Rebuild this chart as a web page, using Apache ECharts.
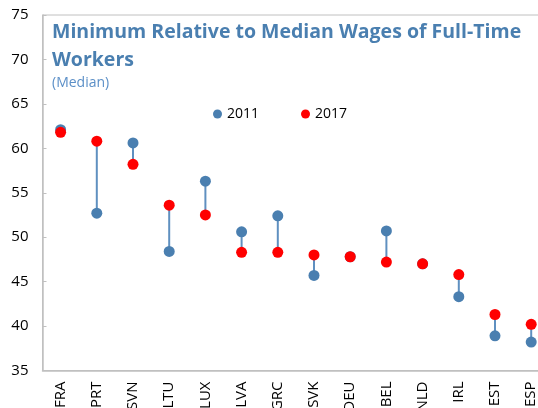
<!DOCTYPE html>
<html>
<head>
<meta charset="utf-8">
<script src="https://cdn.jsdelivr.net/npm/echarts@6/dist/echarts.min.js"></script>
<style>
  html, body { margin: 0; padding: 0; background: #fff; }
  #chart { width: 538px; height: 408px; }
</style>
</head>
<body>
<div id="chart"></div>
<script>
const countries = ['FRA', 'PRT', 'SVN', 'LTU', 'LUX', 'LVA', 'GRC', 'SVK', 'DEU', 'BEL', 'NLD', 'IRL', 'EST', 'ESP']
const wages2011 = [62.1, 52.7, 60.6, 48.4, 56.3, 50.6, 52.4, 45.7, 47.8, 50.7, 47.0, 43.3, 38.9, 38.2]
const wages2017 = [61.8, 60.8, 58.2, 53.6, 52.5, 48.3, 48.3, 48.0, 47.8, 47.2, 47.0, 45.8, 41.3, 40.2]

const blue = '#4a7fb0'
const red = '#ff0000'
const axisGray = '#c0c0c0'
const font = 'Open Sans'

const chart = echarts.init(document.getElementById('chart'))

chart.setOption({
  animation: false,
  textStyle: { fontFamily: font },
  title: {
    text: 'Minimum Relative to Median Wages of Full-Time\nWorkers',
    subtext: '(Median)',
    left: 52,
    top: 19,
    padding: 0,
    itemGap: 1,
    textStyle: { color: blue, fontSize: 19.5, fontWeight: 'bold', lineHeight: 27.5, fontFamily: font },
    subtextStyle: { color: '#5b8fc7', fontSize: 14, lineHeight: 16, fontFamily: font }
  },
  legend: {
    data: ['2011', '2017'],
    top: 102,
    left: 208,
    icon: 'circle',
    itemWidth: 9,
    itemHeight: 9,
    itemGap: 42,
    textStyle: { color: '#000', fontSize: 14, fontFamily: font }
  },
  grid: {
    left: 42.5,
    right: -11.3,
    top: 15,
    bottom: 37.5,
    outerBoundsMode: 'none',
    containLabel: false,
    show: true,
    borderColor: axisGray,
    borderWidth: 1
  },
  xAxis: {
    type: 'category',
    data: countries,
    axisLine: { lineStyle: { color: axisGray, width: 1.5 } },
    axisTick: { inside: true, length: 5, lineStyle: { color: axisGray } },
    axisLabel: { rotate: 90, margin: 11, color: '#000', fontSize: 15, fontFamily: font }
  },
  yAxis: {
    type: 'value',
    min: 35,
    max: 75,
    interval: 5,
    splitLine: { show: false },
    axisLine: { show: true, lineStyle: { color: axisGray, width: 1.5 } },
    axisTick: { show: true, inside: true, length: 4, lineStyle: { color: axisGray } },
    axisLabel: { margin: 14, color: '#000', fontSize: 15, fontFamily: font }
  },
  series: [
    {
      type: 'custom',
      name: 'range',
      silent: true,
      data: countries.map((c, i) => [i, wages2011[i], wages2017[i]]),
      renderItem: function (params, api) {
        const a = api.coord([api.value(0), api.value(1)])
        const b = api.coord([api.value(0), api.value(2)])
        return {
          type: 'line',
          shape: { x1: a[0], y1: a[1], x2: b[0], y2: b[1] },
          style: { stroke: '#5f90c0', lineWidth: 2 }
        }
      },
      z: 1
    },
    {
      name: '2011',
      type: 'scatter',
      data: wages2011,
      symbolSize: 11,
      itemStyle: { color: blue, opacity: 1 },
      z: 2
    },
    {
      name: '2017',
      type: 'scatter',
      data: wages2017,
      symbolSize: 11,
      itemStyle: { color: red, opacity: 1 },
      z: 3
    }
  ]
})
</script>
</body>
</html>
